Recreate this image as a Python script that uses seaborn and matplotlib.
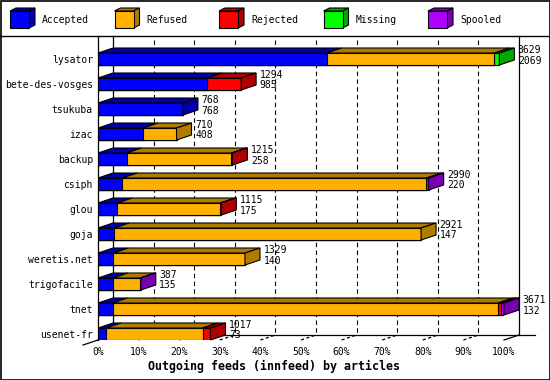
import matplotlib
import matplotlib.pyplot as plt
import seaborn as sns
from matplotlib.patches import Polygon, Rectangle

matplotlib.use("Agg")

feeds = [
    "lysator", "bete-des-vosges", "tsukuba", "izac", "backup", "csiph",
    "glou", "goja", "weretis.net", "trigofacile", "tnet", "usenet-fr",
]
accepted = [2069, 985, 768, 408, 258, 220, 175, 147, 140, 135, 132, 73]
refused = [1515, 0, 0, 302, 947, 2750, 930, 2774, 1189, 247, 3485, 872]
rejected = [0, 309, 0, 0, 10, 0, 10, 0, 0, 0, 27, 72]
missing = [45, 0, 0, 0, 0, 0, 0, 0, 0, 0, 0, 0]
spooled = [0, 0, 0, 0, 0, 20, 0, 0, 0, 5, 27, 0]
totals = [3629, 1294, 768, 710, 1215, 2990, 1115, 2921, 1329, 387, 3671, 1017]

segment_names = ["Accepted", "Refused", "Rejected", "Missing", "Spooled"]
face_colors = ["#0000ff", "#ffb000", "#ff0000", "#00ff00", "#b000ff"]
dark_colors = ["#0000a8", "#b07c00", "#b00000", "#00a800", "#7800b0"]
x_ticks = list(range(0, 101, 10))
x_tick_labels = [f"{t}%" for t in x_ticks]

W, H = 550, 380
LEFT_PX, RIGHT_PX, TOP_PX, FLOOR_PX = 98, 504, 36, 340
ROW0_PX, ROW_PX = 59, 25
PX_X = 100 / (RIGHT_PX - LEFT_PX)   # percent per pixel
PX_Y = 1 / ROW_PX                   # row units per pixel
DX, DY = 15 * PX_X, -5 * PX_Y       # 3D depth offset
BAR_H = 12 * PX_Y
Y_TOP = (TOP_PX - ROW0_PX) * PX_Y
Y_FRONT = (FLOOR_PX - ROW0_PX) * PX_Y
Y_BACK = Y_FRONT + DY

plt.rcParams["font.family"] = ["DejaVu Sans Mono"]
fig = plt.figure(figsize=(W / 100, H / 100), dpi=100)

# overlay in pixel units: border, legend, x label
ax0 = fig.add_axes([0, 0, 1, 1], zorder=0)
ax0.set_xlim(0, W)
ax0.set_ylim(H, 0)
ax0.axis("off")
ax0.add_patch(Rectangle((0.5, 0.5), W - 1, H - 1, fill=False, ec="black", lw=1.2))
ax0.plot([0, W], [35.5, 35.5], color="black", lw=1)
for i, name in enumerate(segment_names):
    x0 = 10 + 104.5 * i
    ax0.add_patch(Polygon([(x0, 11), (x0 + 6, 8), (x0 + 25, 8), (x0 + 19, 11)],
                          fc=dark_colors[i], ec="black", lw=0.8))
    ax0.add_patch(Polygon([(x0 + 19, 11), (x0 + 25, 8), (x0 + 25, 25), (x0 + 19, 28)],
                          fc=dark_colors[i], ec="black", lw=0.8))
    ax0.add_patch(Rectangle((x0, 11), 19, 17, fc=face_colors[i], ec="black", lw=0.8))
    ax0.text(x0 + 32, 20, name, fontsize=7, ha="left", va="center")
ax0.text(274, 366, "Outgoing feeds (innfeed) by articles", fontsize=8.4,
         fontweight="bold", ha="center", va="center")

ax = fig.add_axes([LEFT_PX / W, 1 - FLOOR_PX / H, (RIGHT_PX - LEFT_PX) / W,
                   (FLOOR_PX - TOP_PX) / H], zorder=1)
ax.patch.set_alpha(0)

max_total = max(totals)
series = [accepted, refused, rejected, missing, spooled]
pct = [[v / max_total * 100 for v in s] for s in series]
cum = []
run = [0.0] * len(feeds)
for s in pct:
    run = [a + b for a, b in zip(run, s)]
    cum.append(run)

# front faces: cumulative bars drawn back to front
for k in range(len(series) - 1, -1, -1):
    sns.barplot(x=cum[k], y=feeds, orient="h", color=face_colors[k], saturation=1,
                width=BAR_H, edgecolor="black", linewidth=0.8, ax=ax, zorder=3)

# top and side faces
for i in range(len(feeds)):
    top, bot = i - BAR_H / 2, i + BAR_H / 2
    last = None
    for k in range(len(series)):
        if pct[k][i] <= 0:
            continue
        x0, x1 = cum[k][i] - pct[k][i], cum[k][i]
        ax.add_patch(Polygon([(x0, top), (x1, top), (x1 + DX, top + DY), (x0 + DX, top + DY)],
                             fc=dark_colors[k], ec="black", lw=0.8, zorder=4, clip_on=False))
        last = k
    xe = cum[last][i]
    ax.add_patch(Polygon([(xe, top), (xe + DX, top + DY), (xe + DX, bot + DY), (xe, bot)],
                         fc=dark_colors[last], ec="black", lw=0.8, zorder=4, clip_on=False))
    tx = xe + DX + 3.5 * PX_X
    ax.text(tx, i - 6 * PX_Y, str(totals[i]), fontsize=7, ha="left", va="baseline",
            zorder=6, clip_on=False)
    ax.text(tx, i + 4.5 * PX_Y, str(accepted[i]), fontsize=7, ha="left", va="baseline",
            zorder=6, clip_on=False)

# back plane, grid and floor
for t in x_ticks[1:-1]:
    ax.plot([t + DX, t + DX], [Y_TOP + 4 * PX_Y, Y_BACK], color="black", lw=0.8,
            ls=(0, (4, 3)), zorder=1, clip_on=False)
for t in (0, 100):
    ax.plot([t + DX, t + DX], [Y_TOP, Y_BACK], color="black", lw=0.9, zorder=1, clip_on=False)
ax.plot([DX, 107.6], [Y_BACK, Y_BACK], color="black", lw=0.9, zorder=1, clip_on=False)
for t in x_ticks:
    ls = "-" if t in (0, 100) else (0, (2.5, 2))
    ax.plot([t, t + DX], [Y_FRONT, Y_BACK], color="black", lw=0.9, ls=ls,
            zorder=2, clip_on=False)
ax.plot([-DX, 0], [Y_FRONT - DY, Y_FRONT], color="black", lw=0.9, zorder=2, clip_on=False)

ax.set_xlim(0, 100)
ax.set_ylim(Y_FRONT, Y_TOP)
ax.set_xticks(x_ticks)
ax.set_xticklabels(x_tick_labels)
ax.tick_params(axis="x", length=0, pad=5, labelsize=7)
ax.tick_params(axis="y", length=0, pad=3.6, labelsize=7)
ax.set_xlabel("")
ax.set_ylabel("")
for side in ("top", "right", "bottom"):
    ax.spines[side].set_visible(False)
ax.spines["left"].set_color("black")
ax.spines["left"].set_linewidth(0.9)
ax.spines["left"].set_zorder(2)

fig.savefig("out.png", dpi=100)
